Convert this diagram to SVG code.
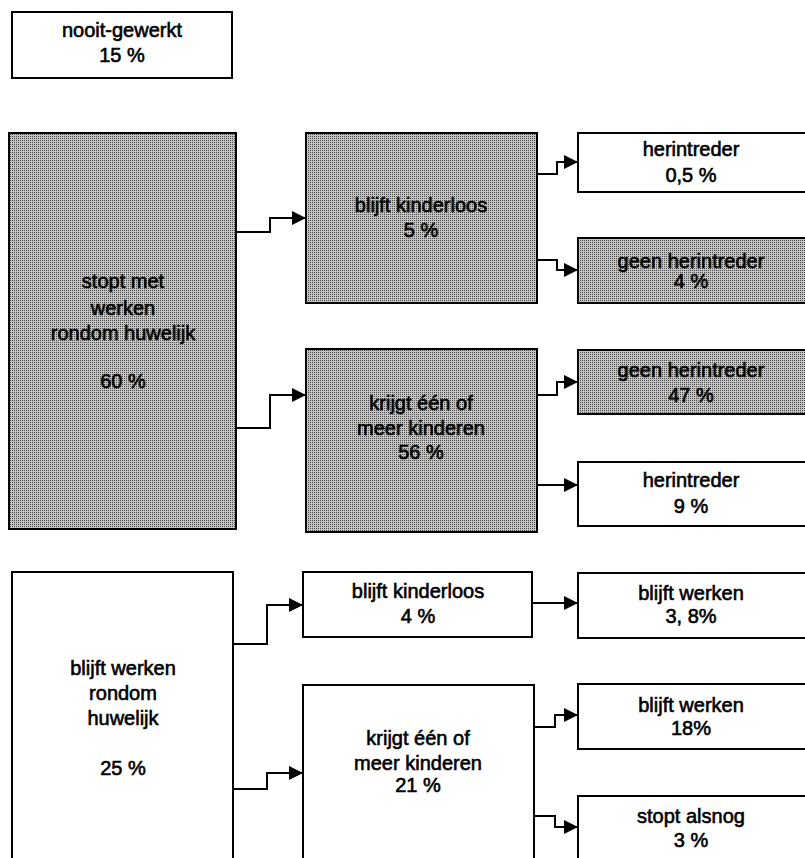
<svg xmlns="http://www.w3.org/2000/svg" width="805" height="858" viewBox="0 0 805 858">
<defs>
<pattern id="dots" width="2" height="2" patternUnits="userSpaceOnUse">
<rect width="2" height="2" fill="#c4c4c4"/>
<rect width="1" height="1" fill="#4a4a4a"/>
</pattern>
<marker id="arr" markerUnits="userSpaceOnUse" markerWidth="16" markerHeight="16" refX="14" refY="7" orient="auto">
<path d="M0,0 L14,7 L0,14 Z" fill="#000"/>
</marker>
<style>
.box{stroke:#000;stroke-width:2;fill:#fff}
.sh{stroke:#000;stroke-width:2;fill:url(#dots)}
text{font-family:"Liberation Sans",Arial,sans-serif;font-size:20px;fill:#000;stroke:#000;stroke-width:0.6;text-anchor:middle}
.c{fill:none;stroke:#000;stroke-width:2;marker-end:url(#arr)}
</style>
</defs>
<rect width="805" height="858" fill="#fff"/>

<g id="n-nooit">
<rect class="box" x="12" y="12" width="220" height="66"/>
<text x="122" y="37">nooit-gewerkt</text>
<text x="122" y="62">15 %</text>
</g>

<g id="n-stopt">
<rect class="sh" x="9" y="133" width="227" height="396"/>
<text x="123" y="288">stopt met</text>
<text x="123" y="315">werken</text>
<text x="123" y="340">rondom huwelijk</text>
<text x="123" y="388">60 %</text>
</g>

<g id="n-kl1">
<rect class="sh" x="306" y="133" width="231" height="170"/>
<text x="421" y="212">blijft kinderloos</text>
<text x="421" y="237">5 %</text>
</g>

<g id="n-kk1">
<rect class="sh" x="306" y="349" width="231" height="183"/>
<text x="421" y="410">krijgt één of</text>
<text x="421" y="435">meer kinderen</text>
<text x="421" y="459">56 %</text>
</g>

<g id="n-her1">
<rect class="box" x="578" y="133" width="230" height="59"/>
<text x="691" y="156">herintreder</text>
<text x="691" y="182">0,5 %</text>
</g>

<g id="n-geen1">
<rect class="sh" x="578" y="238" width="230" height="65"/>
<text x="691" y="268">geen herintreder</text>
<text x="691" y="288">4 %</text>
</g>

<g id="n-geen2">
<rect class="sh" x="578" y="350" width="230" height="64"/>
<text x="691" y="377">geen herintreder</text>
<text x="691" y="402">47 %</text>
</g>

<g id="n-her2">
<rect class="box" x="578" y="462" width="230" height="64"/>
<text x="691" y="487">herintreder</text>
<text x="691" y="513">9 %</text>
</g>

<g id="n-blijft">
<rect class="box" x="12" y="572" width="221" height="300"/>
<text x="123" y="675">blijft werken</text>
<text x="123" y="700">rondom</text>
<text x="123" y="725">huwelijk</text>
<text x="123" y="775">25 %</text>
</g>

<g id="n-kl2">
<rect class="box" x="303" y="572" width="229" height="65"/>
<text x="418" y="598">blijft kinderloos</text>
<text x="418" y="623">4 %</text>
</g>

<g id="n-kk2">
<rect class="box" x="303" y="685" width="231" height="190"/>
<text x="418" y="745">krijgt één of</text>
<text x="418" y="770">meer kinderen</text>
<text x="418" y="792">21 %</text>
</g>

<g id="n-bw1">
<rect class="box" x="578" y="573" width="230" height="65"/>
<text x="691" y="600">blijft werken</text>
<text x="691" y="623">3, 8%</text>
</g>

<g id="n-bw2">
<rect class="box" x="578" y="684" width="230" height="65"/>
<text x="691" y="712">blijft werken</text>
<text x="691" y="735">18%</text>
</g>

<g id="n-stopt2">
<rect class="box" x="578" y="796" width="230" height="80"/>
<text x="691" y="823">stopt alsnog</text>
<text x="691" y="847">3 %</text>
</g>

<g id="connectors">
<path class="c" d="M236,232 H270 V218 H306"/>
<path class="c" d="M236,428 H270 V395 H306"/>
<path class="c" d="M537,174 H557 V162 H578"/>
<path class="c" d="M537,260 H557 V270 H578"/>
<path class="c" d="M537,395 H557 V382 H578"/>
<path class="c" d="M537,485 H578"/>
<path class="c" d="M233,644 H267 V605 H303"/>
<path class="c" d="M233,789 H267 V773 H303"/>
<path class="c" d="M532,603 H578"/>
<path class="c" d="M534,727 H555 V715 H578"/>
<path class="c" d="M534,816 H555 V827 H578"/>
</g>
</svg>
